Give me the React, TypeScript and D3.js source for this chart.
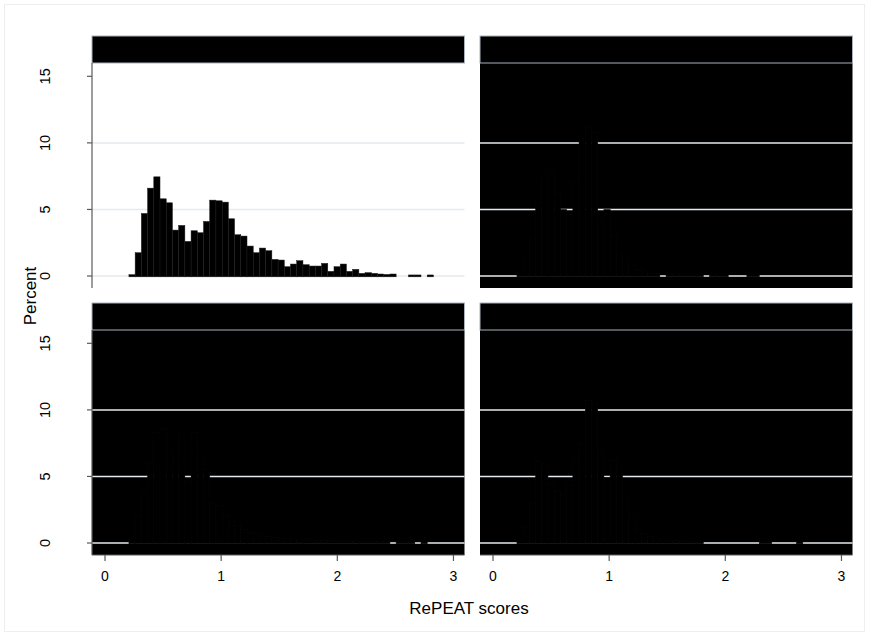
import React from "react";
import * as d3 from "d3";

// histogram bins shared by all panels (Stata by() histogram)
const binOrigin = 0.206;
const binWidth = 0.0535;

const panelA = [
  0.1, 1.75, 4.7, 6.6, 7.45, 5.8, 5.5, 3.45, 3.8, 2.6,
  3.4, 3.25, 4.1, 5.7, 5.65, 5.55, 4.3, 3.1, 3.0, 2.25,
  1.75, 2.1, 1.9, 1.25, 1.2, 0.7, 0.9, 1.15, 0.85, 0.75,
  0.75, 0.95, 0.35, 0.7, 0.9, 0.35, 0.5, 0.2, 0.25, 0.2,
  0.15, 0.12, 0.15, 0, 0, 0.08, 0.08, 0, 0.08,
];
const panelB = [
  0.3, 1.5, 2.8, 5.5, 7.5, 7.8, 6.2, 5.0, 4.6, 7.0,
  10.3, 11.2, 10.8, 4.0, 5.0, 3.0, 1.6, 1.4, 0.8, 0.5,
  0.3, 0.2, 0.2, 0, 0.15, 0.15, 0.15, 0.15, 0.15, 0.15,
  0, 0.15, 0.15, 0.15, 0, 0, 0, 0.15, 0.15, 0,
  0, 0, 0, 0, 0, 0, 0, 0, 0,
];
const panelC = [
  0.3, 2.0, 3.8, 6.0, 8.3, 8.6, 7.0, 6.5, 8.2, 4.6,
  8.3, 6.6, 5.5, 3.0, 2.8, 2.0, 1.6, 1.3, 1.0, 0.8,
  0.7, 0.6, 0.5, 0.4, 0.4, 0.35, 0.3, 0.3, 0.25, 0.25,
  0.2, 0.2, 0.2, 0.15, 0.15, 0.15, 0.1, 0.1, 0.1, 0.1,
  0.1, 0.1, 0, 0.1, 0.1, 0.1, 0, 0.1, 0,
];
const panelD = [
  0.2, 1.2, 3.0, 6.1, 6.0, 4.4, 3.9, 3.6, 4.3, 6.5,
  7.5, 10.7, 10.5, 6.8, 4.9, 6.2, 5.8, 3.4, 1.8, 1.0,
  0.7, 0.5, 0.3, 0.3, 0.2, 0.2, 0.15, 0.15, 0.1, 0.1,
  0, 0, 0, 0, 0, 0, 0, 0, 0, 0.1,
  0.1, 0, 0, 0, 0, 0.1, 0, 0, 0,
];

const yTicks = [0, 5, 10, 15];
const yGrid = [0, 5, 10];
const xTicks = [0, 1, 2, 3];
const xTitle = "RePEAT scores";
const yTitle = "Percent";

const W = 869;
const H = 636;
const colX = [92, 480];
const rowY = [36, 303];
const panelW = 372.5;
const stripH = 27;
const plotH = 225;

const panels = [
  { values: panelA, col: 0, row: 0, bg: "#ffffff", seam: "#1c1c1c" },
  { values: panelB, col: 1, row: 0, bg: "#000000", seam: "#070707" },
  { values: panelC, col: 0, row: 1, bg: "#000000", seam: "#070707" },
  { values: panelD, col: 1, row: 1, bg: "#000000", seam: "#070707" },
];

const font = "'Liberation Sans', Arial, sans-serif";

function Panel({ p }: { p: (typeof panels)[number] }) {
  const x0 = colX[p.col];
  const top = rowY[p.row];
  const plotTop = top + stripH;
  const x = d3.scaleLinear().domain([-0.112, 3.095]).range([x0, x0 + panelW]);
  const y = d3.scaleLinear().domain([-0.9, 16.0]).range([plotTop + plotH, plotTop]);
  const bins = p.values.map((v, i) => ({
    x1: binOrigin + i * binWidth,
    x2: binOrigin + (i + 1) * binWidth,
    v,
  }));
  return (
    <g>
      <rect x={x0} y={plotTop} width={panelW} height={plotH} fill={p.bg} />
      {yGrid.map((t) => (
        <line key={t} x1={x0} x2={x0 + panelW} y1={y(t)} y2={y(t)} stroke="#e4eaee" strokeWidth={1.5} />
      ))}
      {bins
        .filter((b) => b.v > 0)
        .map((b, i) => (
          <rect
            key={i}
            x={x(b.x1)}
            y={y(b.v)}
            width={x(b.x2) - x(b.x1)}
            height={y(0) - y(b.v) + 0.8}
            fill="#000"
            stroke={p.seam}
            strokeWidth={0.5}
          />
        ))}
      <rect x={x0} y={top} width={panelW} height={stripH} fill="#000" stroke="#a9b1bd" strokeWidth={1} />
      {p.col === 0 && (
        <g>
          <line x1={x0} x2={x0} y1={plotTop} y2={plotTop + plotH} stroke="#5a5a5a" strokeWidth={1.2} />
          {yTicks.map((t) => (
            <g key={t}>
              <line x1={x0 - 5} x2={x0} y1={y(t)} y2={y(t)} stroke="#5a5a5a" strokeWidth={1.2} />
              <text
                transform={`translate(${x0 - 42},${y(t)}) rotate(-90)`}
                textAnchor="middle"
                fontSize={14.5}
                fontFamily={font}
                fill="#000"
              >
                {t}
              </text>
            </g>
          ))}
        </g>
      )}
      {p.row === 1 && (
        <g>
          <line x1={x0} x2={x0 + panelW} y1={plotTop + plotH} y2={plotTop + plotH} stroke="#5a5a5a" strokeWidth={1.2} />
          {xTicks.map((t) => (
            <g key={t}>
              <line x1={x(t)} x2={x(t)} y1={plotTop + plotH} y2={plotTop + plotH + 6} stroke="#5a5a5a" strokeWidth={1.2} />
              <text x={x(t)} y={plotTop + plotH + 26} textAnchor="middle" fontSize={14} fontFamily={font} fill="#000">
                {t}
              </text>
            </g>
          ))}
        </g>
      )}
    </g>
  );
}

export default function App() {
  return (
    <svg width={W} height={H} style={{ position: "absolute", left: 0, top: 0, background: "#fff" }}>
      <rect x={0} y={0} width={W} height={H} fill="#fff" />
      <rect x={4.5} y={4.5} width={W - 9} height={H - 9} fill="none" stroke="#eeeeee" strokeWidth={1} />
      {panels.map((p, i) => (
        <Panel key={i} p={p} />
      ))}
      <text x={469} y={614} textAnchor="middle" fontSize={17} fontFamily={font} fill="#000">
        {xTitle}
      </text>
      <text transform="translate(36,296) rotate(-90)" textAnchor="middle" fontSize={17} fontFamily={font} fill="#000">
        {yTitle}
      </text>
    </svg>
  );
}
